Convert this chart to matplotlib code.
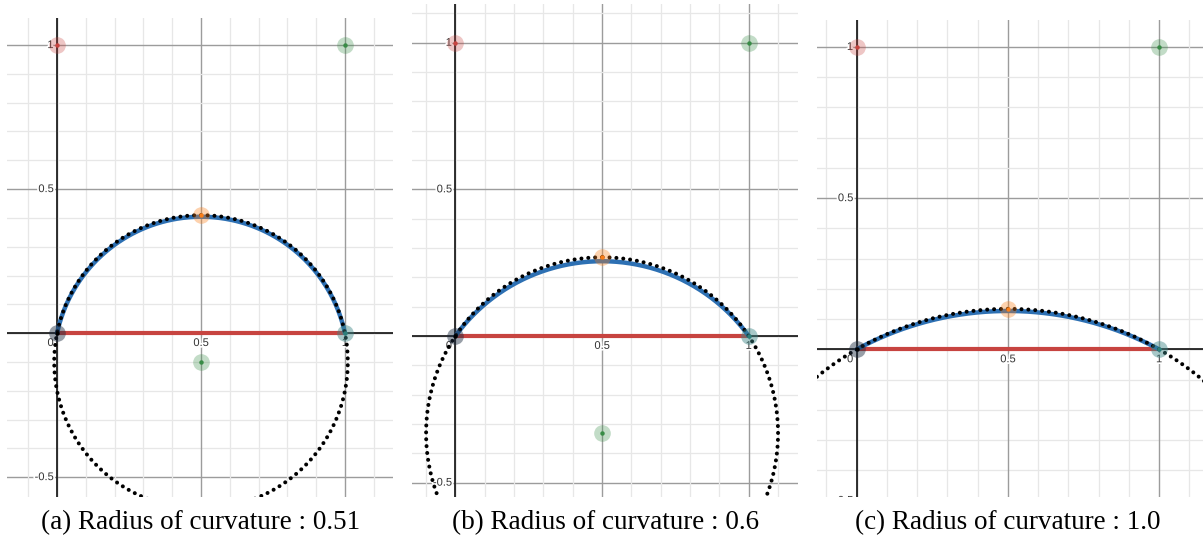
import numpy as np
import matplotlib
matplotlib.use("Agg")
import matplotlib.pyplot as plt
import matplotlib.patheffects as pe

# ---- data ----
radii = [0.51, 0.6, 1.0]                 # radius of the dotted circle (curvature)
blue_apex = [0.404, 0.255, 0.127]        # apex height of the blue fitted curve
chord_start = (0.0, 0.0)
chord_end = (1.0, 0.0)
ctrl_red = (0.0, 1.0)
ctrl_green = (1.0, 1.0)
captions = ["(a) Radius of curvature : 0.51",
            "(b) Radius of curvature : 0.6",
            "(c) Radius of curvature : 1.0"]
x_tick_labels = {0.0: "0", 0.5: "0.5", 1.0: "1"}
y_tick_labels = {0.5: "0.5", 1.0: "1", -0.5: "-0.5"}

# ---- layout (pixels) ----
W, H = 1203, 546
panels_px = [(7, 393, 18, 497), (412, 798, 4, 497), (817, 1203, 20, 497)]
limits = [((-0.174, 1.167), (-0.569, 1.094)),
          ((-0.148, 1.168), (-0.549, 1.132)),
          ((-0.131, 1.145), (-0.488, 1.089))]
caption_x = [201, 606, 1008]
caption_y = 523

RED = "#c74440"
GREEN = "#388c46"
ORANGE = "#fa7e19"
BLUE = "#2d70b3"

fig = plt.figure(figsize=(W / 100, H / 100), dpi=100)

for i, R in enumerate(radii):
    x0, x1, y0, y1 = panels_px[i]
    ax = fig.add_axes([x0 / W, (H - y1) / H, (x1 - x0) / W, (y1 - y0) / H])
    (xl, xr), (yb, yt) = limits[i]
    ax.set_xlim(xl, xr)
    ax.set_ylim(yb, yt)
    for s in ax.spines.values():
        s.set_visible(False)
    ax.set_xticks([])
    ax.set_yticks([])

    # grid
    for v in np.arange(-1.0, 1.6, 0.1):
        v = round(v, 1)
        major = abs(v * 2 - round(v * 2)) < 1e-9
        col = "#9c9c9c" if major else "#e7e7e7"
        lw = 1.0 if major else 0.9
        ax.axvline(v, color=col, lw=lw, zorder=0)
        ax.axhline(v, color=col, lw=lw, zorder=0)
    ax.axvline(0, color="#222222", lw=1.3, zorder=1)
    ax.axhline(0, color="#222222", lw=1.3, zorder=1)

    # tick labels
    peff = [pe.withStroke(linewidth=2.5, foreground="white")]
    for v, t in y_tick_labels.items():
        ax.annotate(t, xy=(0, v), xytext=(-2.5, 0), textcoords="offset points",
                    ha="right", va="center", fontsize=8, color="#333333",
                    family="Liberation Sans", zorder=2, path_effects=peff,
                    annotation_clip=False, clip_on=True)
    for v, t in x_tick_labels.items():
        dx = -2.5 if v == 0 else 0
        ha = "right" if v == 0 else "center"
        ax.annotate(t, xy=(v, 0), xytext=(dx, -3.5), textcoords="offset points",
                    ha=ha, va="top", fontsize=8, color="#333333",
                    family="Liberation Sans", zorder=2, path_effects=peff,
                    annotation_clip=False, clip_on=True)

    # chord
    ax.plot([chord_start[0], chord_end[0]], [chord_start[1], chord_end[1]],
            color=RED, lw=3.0, solid_capstyle="butt", zorder=3)

    # blue fitted arc (circle through chord ends and apex)
    h = blue_apex[i]
    mx = (chord_start[0] + chord_end[0]) / 2
    half = (chord_end[0] - chord_start[0]) / 2
    Rb = (half ** 2 + h ** 2) / (2 * h)
    cyb = h - Rb
    a0 = np.arctan2(-cyb, -half)
    a1 = np.arctan2(-cyb, half)
    t = np.linspace(a0, a1 if a1 < a0 else a1 - 2 * np.pi, 300)
    ax.plot(mx + Rb * np.cos(t), cyb + Rb * np.sin(t), color=BLUE, lw=3.2,
            solid_capstyle="round", zorder=4)

    # dotted circle of curvature
    cy = -np.sqrt(R ** 2 - half ** 2)
    tt = np.linspace(np.pi / 2, np.pi / 2 + 2 * np.pi, 1500)
    ax.plot(mx + R * np.cos(tt), cy + R * np.sin(tt), color="black", lw=2.9,
            linestyle=(0, (0.01, 1.7)), dash_capstyle="round", zorder=5)

    # points
    pts = [(ctrl_red, RED, RED, 0.3),
           (ctrl_green, GREEN, GREEN, 0.3),
           ((mx, cy), GREEN, GREEN, 0.3),
           ((mx, cy + R), ORANGE, ORANGE, 0.35),
           (chord_start, "black", "#1b2a3e", 0.45),
           (chord_end, "#2d7f7a", "#3d8686", 0.45)]
    for (px, py), core, halo, al in pts:
        ax.plot(px, py, "o", ms=12, color=halo, alpha=al, mec="none", zorder=6)
        ax.plot(px, py, "o", ms=3.2, color=core, mec="none", zorder=7)

    fig.text(caption_x[i] / W, (H - caption_y) / H, captions[i],
             ha="center", va="center", fontsize=19.5, family="Liberation Serif")

fig.savefig("out.png", dpi=100)
